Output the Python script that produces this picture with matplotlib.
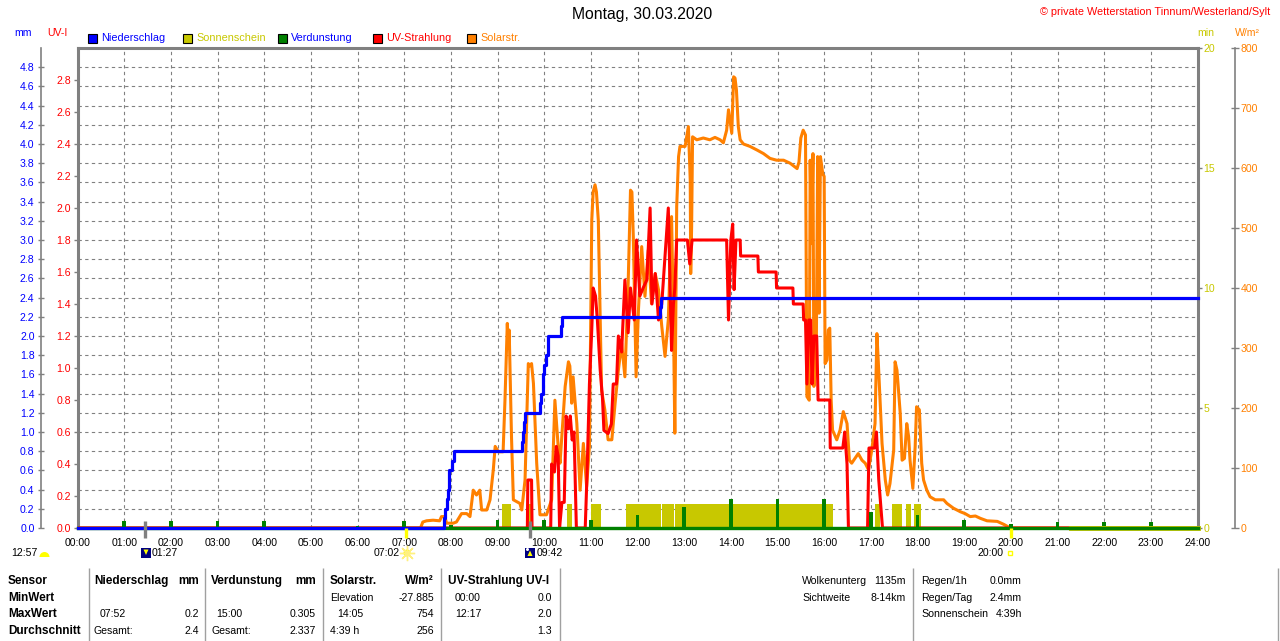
import numpy as np
import matplotlib
matplotlib.use('Agg')
import matplotlib.pyplot as plt
import matplotlib.transforms as mtransforms
from matplotlib.patches import Rectangle, Circle, Wedge, Polygon
from matplotlib import font_manager

# narrow font if we have it, otherwise plain Liberation Sans a bit smaller
names = {f.name for f in font_manager.fontManager.ttflist}
if 'Liberation Sans Narrow' in names:
    NARROW, NS = 'Liberation Sans Narrow', 1.0
else:
    NARROW, NS = 'Liberation Sans', 0.84
plt.rcParams['font.family'] = [NARROW, 'DejaVu Sans']

BLUE, RED, ORANGE = '#0000FF', '#FF0000', '#FF8000'
OLIVE, GREEN, GREY, NAVY = '#C8C800', '#008000', '#808080', '#000080'

# ---- data -------------------------------------------------------------
hours = np.arange(25)
hour_labels = [f'{h:02d}:00' for h in hours]
mm_ticks = np.round(np.arange(25) * 0.2, 1)
uv_ticks = np.round(np.arange(15) * 0.2, 1)
min_ticks = [0, 5, 10, 15, 20]
w_ticks = np.arange(0, 801, 100)

# Niederschlag (cumulated, mm)
precip_t = [0.00, 7.85, 7.87, 7.92, 7.94, 7.96, 8.02, 8.07, 9.52, 9.54, 9.56, 9.58,
            9.91, 9.94, 9.97, 10.00, 10.04, 10.08, 10.36, 10.39, 12.48, 12.51, 24.00]
precip_mm = [0.0, 0.1, 0.2, 0.3, 0.4, 0.6, 0.7, 0.8, 0.9, 1.0, 1.1, 1.2,
             1.3, 1.4, 1.6, 1.7, 1.8, 2.0, 2.1, 2.2, 2.3, 2.4, 2.4]

# Verdunstung per hour (mm)
evap_h = list(range(24))
evap_mm = [0.0, 0.07, 0.07, 0.07, 0.07, 0.0, 0.02, 0.07, 0.03, 0.08, 0.08, 0.08,
           0.135, 0.22, 0.30, 0.305, 0.30, 0.17, 0.135, 0.08, 0.04, 0.06, 0.06, 0.06]

# Sonnenschein intervals (h) and minutes
sun_start = [9.09, 9.64, 10.48, 11.00, 11.75, 12.53, 12.81, 17.09, 17.45, 17.76, 17.93]
sun_end = [9.28, 9.77, 10.59, 11.21, 12.50, 12.78, 16.19, 17.19, 17.67, 17.87, 18.07]
sun_min = [1.0] * len(sun_start)
sun_zero_t = [21.28, 24.00]
sun_zero_v = [0, 0]

# UV-Strahlung (UV-I)
uv_t = [0.00, 9.64, 9.65, 9.73, 9.74, 10.14, 10.16, 10.22, 10.26, 10.30,
        10.33, 10.38, 10.43, 10.47, 10.52, 10.56, 10.60, 10.64, 10.69, 10.88,
        10.92, 10.97, 11.02, 11.05, 11.10, 11.14, 11.20, 11.25, 11.28, 11.37,
        11.44, 11.48, 11.55, 11.59, 11.66, 11.73, 11.80, 11.85, 11.93, 11.98,
        12.05, 12.12, 12.20, 12.27, 12.31, 12.38, 12.45, 12.52, 12.59, 12.66,
        12.73, 12.77, 12.80, 12.84, 13.07, 13.12, 13.17, 13.91, 13.95, 14.00,
        14.04, 14.07, 14.11, 14.20, 14.21, 14.58, 14.59, 14.97, 14.98, 15.33,
        15.34, 15.55, 15.56, 15.60, 15.63, 15.67, 15.71, 15.74, 15.78, 15.84,
        15.87, 16.12, 16.13, 16.40, 16.44, 16.49, 16.52, 16.93, 16.96, 17.08,
        17.12, 17.17, 17.25, 24.00]
uv_i = [0, 0, 0.3, 0.3, 0, 0, 0.4, 0.35, 0.51, 0.45,
        0, 0.16, 0.16, 0.70, 0.62, 0.70, 0.55, 0.60, 0, 0,
        0.35, 0.9, 1.24, 1.5, 1.45, 1.3, 0.99, 0.81, 0.61, 0.59,
        0.65, 0.9, 0.9, 1.2, 1.1, 1.55, 1.22, 1.5, 1.3, 1.8,
        1.45, 1.5, 1.55, 2.0, 1.4, 1.59, 1.3, 1.4, 1.7, 2.0,
        1.11, 1.4, 1.5, 1.8, 1.8, 1.65, 1.8, 1.8, 1.3, 1.8,
        1.9, 1.49, 1.8, 1.8, 1.7, 1.7, 1.6, 1.6, 1.5, 1.5,
        1.4, 1.4, 1.3, 1.3, 0.9, 1.3, 1.3, 0.9, 1.2, 1.2,
        0.8, 0.8, 0.5, 0.5, 0.6, 0.4, 0, 0, 0.5, 0.5,
        0.6, 0.3, 0, 0]

# Solarstrahlung (W/m2)
solar_t = [0.00, 7.35, 7.40, 7.48, 7.62, 7.76, 7.80, 7.87, 7.91, 8.05,
           8.12, 8.23, 8.34, 8.41, 8.48, 8.55, 8.62, 8.66, 8.77, 8.84,
           8.91, 8.95, 9.02, 9.12, 9.16, 9.21, 9.23, 9.25, 9.30, 9.34,
           9.48, 9.52, 9.59, 9.66, 9.69, 9.73, 9.77, 9.84, 9.91, 10.05,
           10.16, 10.23, 10.30, 10.34, 10.45, 10.52, 10.55, 10.59, 10.62, 10.70,
           10.77, 10.84, 10.91, 10.97, 11.02, 11.05, 11.09, 11.12, 11.16, 11.20,
           11.23, 11.30, 11.37, 11.45, 11.52, 11.59, 11.66, 11.73, 11.80, 11.85,
           11.88, 11.91, 11.97, 12.02, 12.09, 12.16, 12.23, 12.30, 12.38, 12.45,
           12.52, 12.59, 12.66, 12.73, 12.77, 12.80, 12.84, 12.88, 12.91, 13.02,
           13.09, 13.13, 13.14, 13.16, 13.18, 13.27, 13.41, 13.55, 13.66, 13.77,
           13.84, 13.91, 13.95, 14.00, 14.02, 14.06, 14.09, 14.12, 14.16, 14.20,
           14.27, 14.41, 14.56, 14.70, 14.84, 14.98, 15.13, 15.27, 15.42, 15.46,
           15.50, 15.55, 15.60, 15.63, 15.68, 15.70, 15.73, 15.76, 15.78, 15.83,
           15.86, 15.89, 15.92, 15.97, 16.00, 16.02, 16.06, 16.09, 16.12, 16.15,
           16.18, 16.27, 16.34, 16.41, 16.49, 16.54, 16.59, 16.73, 16.81, 16.88,
           16.95, 17.02, 17.09, 17.13, 17.16, 17.24, 17.31, 17.36, 17.41, 17.49,
           17.52, 17.56, 17.63, 17.67, 17.72, 17.77, 17.81, 17.84, 17.90, 17.95,
           17.98, 18.04, 18.09, 18.13, 18.20, 18.27, 18.38, 18.56, 18.63, 18.77,
           18.92, 19.02, 19.13, 19.24, 19.35, 19.49, 19.71, 19.85, 19.99, 24.00]
solar_w = [0, 0, 10, 12, 13, 12, 19, 19, 8, 8,
           10, 24, 24, 19, 63, 55, 63, 30, 30, 47,
           97, 136, 127, 127, 213, 341, 300, 330, 152, 47,
           41, 30, 80, 274, 270, 274, 241, 108, 22, 22,
           47, 213, 136, 108, 236, 277, 270, 208, 252, 174,
           63, 141, 69, 136, 513, 560, 572, 560, 513, 347,
           230, 197, 147, 147, 208, 263, 308, 252, 408, 563,
           560, 486, 252, 363, 469, 386, 463, 374, 424, 397,
           336, 286, 347, 519, 347, 158, 536, 619, 636, 636,
           669, 580, 424, 502, 652, 647, 650, 647, 651, 647,
           642, 663, 697, 669, 658, 752, 750, 730, 669, 647,
           640, 636, 630, 624, 616, 613, 613, 608, 599, 610,
           650, 663, 655, 219, 213, 613, 474, 624, 236, 280,
           619, 358, 619, 590, 586, 274, 280, 330, 333, 213,
           163, 147, 163, 194, 174, 113, 108, 124, 113, 108,
           97, 130, 174, 324, 277, 141, 80, 55, 74, 130,
           277, 263, 191, 113, 116, 174, 152, 113, 66, 136,
           202, 197, 108, 80, 63, 52, 47, 47, 41, 33,
           27, 24, 19, 20, 16, 12, 11, 6, 0, 0]

# moon set / rise and sun rise / set (h)
moon_events = [1 + 27 / 60, 9 + 42 / 60]
sun_events = [7 + 2 / 60, 20.0]

legend_labels = ['Niederschlag', 'Sonnenschein', 'Verdunstung', 'UV-Strahlung', 'Solarstr.']
legend_colors = [BLUE, OLIVE, GREEN, RED, ORANGE]
legend_text_colors = [BLUE, OLIVE, BLUE, RED, ORANGE]

row_names = ['Sensor', 'MinWert', 'MaxWert', 'Durchschnitt']

# ---- figure -----------------------------------------------------------
W_PX, H_PX = 1280, 641
fig = plt.figure(figsize=(12.8, 6.41), dpi=100)
fig.patch.set_facecolor('white')


def pt(px):
    return px * 0.72


rect = [77.5 / W_PX, 1 - 528 / H_PX, 1120 / W_PX, 480 / H_PX]
FS = 9 * NS

# bottom axes: frame, grid, sunshine (min, right)
ax_min = fig.add_axes(rect, zorder=1)
ax_min.set_xlim(0, 24)
ax_min.set_ylim(0, 20)
ax_min.bar(sun_start, sun_min, width=np.subtract(sun_end, sun_start), align='edge',
           color=OLIVE, linewidth=0, zorder=2)
ax_min.set_xticks(hours)
ax_min.set_xticklabels(hour_labels)
ax_min.tick_params(axis='x', length=0, pad=7, labelsize=FS)
ax_min.yaxis.tick_right()
ax_min.set_yticks(min_ticks)
ax_min.set_yticklabels([str(v) for v in min_ticks])
ax_min.set_yticks(np.arange(1, 25) * 0.8, minor=True)
ax_min.tick_params(axis='y', which='major', direction='out', length=pt(4), width=1,
                   color=GREY, labelcolor=OLIVE, pad=1.4, labelsize=FS)
ax_min.tick_params(axis='y', which='minor', length=0)
ax_min.grid(axis='x', which='major', color=GREY, lw=0.8, ls=(0, (3, 3)), zorder=0)
ax_min.grid(axis='y', which='minor', color=GREY, lw=0.8, ls=(0, (3, 3)), zorder=0)
ax_min.set_axisbelow(True)
for s in ax_min.spines.values():
    s.set_color(GREY)
    s.set_linewidth(2.2)

# solar radiation (W/m2, far right)
ax_w = fig.add_axes(rect, zorder=2, sharex=ax_min)
ax_w.patch.set_visible(False)
ax_w.set_ylim(0, 800)
ax_w.plot(solar_t, solar_w, color=ORANGE, lw=2.2)
ax_w.yaxis.tick_right()
ax_w.set_yticks(w_ticks)
ax_w.tick_params(axis='x', bottom=False, labelbottom=False)
ax_w.tick_params(axis='y', direction='inout', length=pt(8), width=1, color=GREY,
                 labelcolor=ORANGE, pad=1.2, labelsize=FS)
for k in ['left', 'top', 'bottom']:
    ax_w.spines[k].set_visible(False)
ax_w.spines['right'].set_position(('outward', pt(37.5)))
ax_w.spines['right'].set_color(GREY)
ax_w.spines['right'].set_linewidth(1.2)

# UV index (left, inner)
ax_uv = fig.add_axes(rect, zorder=3, sharex=ax_min)
ax_uv.patch.set_visible(False)
ax_uv.set_ylim(0, 3)
ax_uv.plot(uv_t, uv_i, color=RED, lw=2.2)
ax_uv.set_yticks(uv_ticks)
ax_uv.set_yticklabels([f'{v:.1f}' for v in uv_ticks])
ax_uv.tick_params(axis='x', bottom=False, labelbottom=False)
ax_uv.tick_params(axis='y', direction='out', length=pt(4), width=1, color=GREY,
                  labelcolor=RED, pad=1.8, labelsize=FS)
for s in ax_uv.spines.values():
    s.set_visible(False)

# precipitation + evaporation (mm, left, outer)
ax = fig.add_axes(rect, zorder=4, sharex=ax_min)
ax.patch.set_visible(False)
ax.set_ylim(0, 5)
ax.plot(sun_zero_t, sun_zero_v, color=OLIVE, lw=3.5, clip_on=False)
ax.axhline(0, color=GREEN, lw=2.4, clip_on=False)
ax.bar(evap_h, evap_mm, width=0.08, color=GREEN, linewidth=0)
ax.step(precip_t, precip_mm, where='post', color=BLUE, lw=2.3, clip_on=False)
ax.set_yticks(mm_ticks)
ax.set_yticklabels([f'{v:.1f}' for v in mm_ticks])
ax.tick_params(axis='x', bottom=False, labelbottom=False)
ax.tick_params(axis='y', direction='inout', length=pt(6), width=1, color=GREY,
               labelcolor=BLUE, pad=2.5, labelsize=FS)
for k in ['right', 'top', 'bottom']:
    ax.spines[k].set_visible(False)
ax.spines['left'].set_position(('outward', pt(36.5)))
ax.spines['left'].set_color(GREY)
ax.spines['left'].set_linewidth(1.2)

# event marks under the time axis
trans = mtransforms.blended_transform_factory(ax.transData, ax.transAxes)
ax.vlines(moon_events, -0.02, 0.014, transform=trans, colors=GREY, lw=2.4, clip_on=False)
ax.vlines(sun_events, -0.02, 0.0, transform=trans, colors='#FFFF00', lw=2.4, clip_on=False)

# ---- overlay for header, icons and table (pixel coords) ---------------
ov = fig.add_axes([0, 0, 1, 1], zorder=10)
ov.set_xlim(0, W_PX)
ov.set_ylim(H_PX, 0)
ov.axis('off')


def txt(x, y, s, ha='left', color='black', size=FS, **kw):
    ov.text(x, y, s, ha=ha, va='center', color=color, fontsize=size, **kw)


txt(642, 15, 'Montag, 30.03.2020', ha='center', size=11.3, family='Liberation Sans')
txt(1270, 12, '\u00a9 private Wetterstation Tinnum/Westerland/Sylt', ha='right',
    color=RED, size=9.3 * NS)
txt(14, 33, 'mm', color=BLUE)
txt(47, 33, 'UV-I', color=RED)
txt(1197, 33, 'min', color=OLIVE)
txt(1235, 33, 'W/m\u00b2', color=ORANGE)

leg_x = [88, 183, 278, 373, 467]
for x0, lab, fc, tc in zip(leg_x, legend_labels, legend_colors, legend_text_colors):
    ov.add_patch(Rectangle((x0, 33.5), 8.5, 9, facecolor=fc, edgecolor='black', lw=0.8))
    txt(x0 + 13, 38, lab, color=tc, size=9.3 * NS)

# sun / moon row
txt(38, 553, '12:57', ha='right')
ov.add_patch(Wedge((44.5, 557), 5, 180, 360, facecolor='#FFFF00', edgecolor='none'))
ov.add_patch(Rectangle((141, 547.5), 10, 10, facecolor=NAVY, edgecolor='none'))
ov.add_patch(Polygon([(143.5, 549.5), (148.5, 549.5), (146, 555)], facecolor='#FFFF00'))
txt(152, 553, '01:27')
txt(400, 553, '07:02', ha='right')
ov.plot([407], [553], marker=(8, 2, 0), ms=11, mew=1, color='#FFF080')
ov.add_patch(Circle((407, 553), 3.6, facecolor='#FFFF20', edgecolor='none'))
ov.add_patch(Rectangle((525, 547.5), 10, 10, facecolor=NAVY, edgecolor='none'))
ov.add_patch(Polygon([(527.5, 556), (532.5, 556), (530, 550.5)], facecolor='#FFFF00'))
ov.add_patch(Circle((527.5, 549.5), 1.5, facecolor='white', edgecolor='none'))
txt(537, 553, '09:42')
txt(1004, 553, '20:00', ha='right')
ov.add_patch(Rectangle((1007.5, 550.5), 4, 4, facecolor='none', edgecolor='#FFFF00', lw=1))

# statistics table
ov.vlines([89, 205, 323, 441, 560, 913, 1278], 568, 641, color='#A0A0A0', lw=1)
rows_y = [581, 598, 614, 631]
BOLD = dict(family='Liberation Sans', weight='bold', size=8.5)
for y, name in zip(rows_y, row_names):
    txt(8, y, name, **BOLD)

txt(94, rows_y[0], 'Niederschlag', **BOLD)
txt(199, rows_y[0], 'mm', ha='right', **BOLD)
txt(100, rows_y[2], '07:52')
txt(199, rows_y[2], '0.2', ha='right')
txt(94, rows_y[3], 'Gesamt:')
txt(199, rows_y[3], '2.4', ha='right')

txt(211, rows_y[0], 'Verdunstung', **BOLD)
txt(316, rows_y[0], 'mm', ha='right', **BOLD)
txt(216, rows_y[2], '15:00')
txt(316, rows_y[2], '0.305', ha='right')
txt(211, rows_y[3], 'Gesamt:')
txt(316, rows_y[3], '2.337', ha='right')

txt(330, rows_y[0], 'Solarstr.', **BOLD)
txt(434, rows_y[0], 'W/m\u00b2', ha='right', **BOLD)
txt(330, rows_y[1], 'Elevation')
txt(434, rows_y[1], '-27.885', ha='right')
txt(337, rows_y[2], '14:05')
txt(434, rows_y[2], '754', ha='right')
txt(330, rows_y[3], '4:39 h')
txt(434, rows_y[3], '256', ha='right')

txt(448, rows_y[0], 'UV-Strahlung UV-I', **BOLD)
txt(455, rows_y[1], '00:00')
txt(552, rows_y[1], '0.0', ha='right')
txt(455, rows_y[2], '12:17')
txt(552, rows_y[2], '2.0', ha='right')
txt(552, rows_y[3], '1.3', ha='right')

txt(802, rows_y[0], 'Wolkenunterg')
txt(906, rows_y[0], '1135m', ha='right')
txt(802, rows_y[1], 'Sichtweite')
txt(906, rows_y[1], '8-14km', ha='right')
txt(921, rows_y[0], 'Regen/1h')
txt(1022, rows_y[0], '0.0mm', ha='right')
txt(921, rows_y[1], 'Regen/Tag')
txt(1022, rows_y[1], '2.4mm', ha='right')
txt(921, rows_y[2], 'Sonnenschein')
txt(1022, rows_y[2], '4:39h', ha='right')

fig.savefig('out.png', dpi=100, facecolor='white')
